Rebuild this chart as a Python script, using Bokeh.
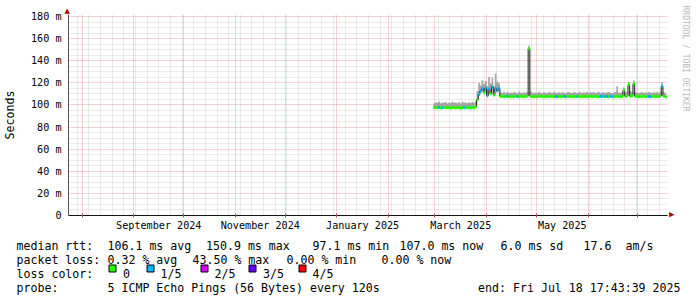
import numpy as np
import pandas as pd
from bokeh.plotting import figure
from bokeh.layouts import column
from bokeh.models import Range1d, FixedTicker, ColumnDataSource, Title
from bokeh.core.properties import value
from bokeh.embed import file_html
from bokeh.resources import INLINE

# ------------------------------------------------------------------ data
first_day = "2025-02-28"            # first daily sample
end_time = "2025-07-18 17:43:39"    # right edge of the graph
span_days = 360

median_ms = [
    97.6, 97.4, 97.5, 97.7, 97.3, 97.5, 97.6,        # Feb 28 - Mar 6
    97.4, 97.6, 97.5, 97.2, 97.6, 97.5, 97.4,        # Mar 7 - 13
    97.6, 97.5, 97.1, 97.7, 97.5, 97.4, 97.6,        # Mar 14 - 20
    97.5, 97.3, 97.6, 97.4, 98.3,                    # Mar 21 - 25
    104.8, 109.5, 112.4, 114.6, 111.2, 115.3, 108.4, # Mar 26 - Apr 1
    114.2, 110.1, 116.3, 108.9, 114.8, 112.6, 115.1, # Apr 2 - 8
    107.6, 107.8, 107.5, 107.7, 107.9, 107.6, 107.5, # Apr 9 - 15
    107.7, 107.4, 107.8, 107.6, 107.5, 107.9, 107.6, # Apr 16 - 22
    107.5, 107.7, 108.0, 150.9, 107.8, 107.6, 107.4, # Apr 23 - 29
    107.6, 107.5, 107.8, 107.6, 107.7, 107.4, 107.6, # Apr 30 - May 6
    107.5, 107.7, 107.6, 107.8, 107.5, 107.6, 107.4, # May 7 - 13
    107.7, 107.5, 107.6, 107.8, 107.5, 107.7, 107.6, # May 14 - 20
    107.4, 107.6, 107.7, 107.5, 107.6, 107.8, 107.5, # May 21 - 27
    107.6, 107.4, 107.7, 107.5, 107.6, 107.8, 107.5, # May 28 - Jun 3
    107.6, 107.7, 107.5, 107.4, 107.6, 107.8, 107.5, # Jun 4 - 10
    107.7, 107.6, 107.5, 107.8, 107.6, 107.4, 107.7, # Jun 11 - 17
    107.9, 107.6, 107.5, 107.7, 113.4, 107.8, 108.1, # Jun 18 - 24
    118.4, 107.9, 108.2, 119.2, 107.8, 107.6, 107.5, # Jun 25 - Jul 1
    107.7, 107.6, 107.8, 107.5, 107.6, 107.7, 107.5, # Jul 2 - 8
    107.6, 107.8, 107.5, 107.7, 107.6, 108.0, 117.0, # Jul 9 - 15
    107.8, 107.6, 107.0,                             # Jul 16 - 18
]

smoke_max_ms = [
    101.2, 102.4, 101.8, 102.9, 101.5, 102.2, 101.9,
    102.6, 101.4, 102.1, 101.7, 103.1, 101.9, 102.3,
    101.6, 102.5, 101.3, 102.8, 101.9, 102.2, 101.5,
    102.4, 101.8, 102.6, 101.7, 103.4,
    112.5, 119.8, 117.6, 122.4, 118.9, 121.7, 116.8,
    125.3, 119.5, 124.6, 117.2, 128.4, 121.3, 119.6,
    111.2, 110.8, 111.6, 110.5, 111.9, 110.9, 111.3,
    110.7, 111.8, 111.2, 110.6, 112.1, 111.0, 110.8,
    111.4, 110.9, 111.7, 153.6, 112.3, 111.2, 110.7,
    111.3, 110.8, 111.9, 111.1, 110.6, 111.5, 111.0,
    110.9, 111.6, 111.2, 110.7, 112.0, 111.3, 110.8,
    111.5, 110.9, 111.7, 111.1, 110.6, 111.4, 111.8,
    111.0, 110.7, 111.6, 111.2, 110.9, 111.8, 111.3,
    110.8, 111.5, 111.0, 111.7, 110.9, 111.4, 111.2,
    111.6, 110.8, 111.3, 111.9, 110.7, 111.2, 111.5,
    110.9, 111.4, 111.8, 111.0, 110.6, 111.3, 111.7,
    116.8, 111.2, 110.9, 111.6, 115.7, 111.3, 112.0,
    120.8, 112.4, 111.9, 122.1, 111.5, 111.1, 110.8,
    111.3, 111.7, 110.9, 111.4, 111.0, 111.6, 111.2,
    110.8, 111.5, 111.1, 111.7, 110.9, 112.2, 120.6,
    111.4, 111.0, 110.7,
]

loss_count = [
    0, 0, 0, 1, 0, 1, 0,
    0, 0, 0, 0, 0, 0, 0,
    0, 0, 0, 0, 1, 0, 0,
    0, 0, 0, 0, 0,
    0, 1, 1, 1, 0, 1, 1,
    1, 0, 1, 0, 1, 1, 1,
    0, 0, 0, 0, 1, 0, 0,
    0, 0, 0, 1, 0, 0, 0,
    0, 0, 0, 0, 0, 0, 0,
    0, 0, 0, 0, 0, 0, 0,
    0, 0, 0, 0, 0, 1, 1,
    0, 0, 0, 1, 1, 0, 0,
    0, 0, 0, 0, 1, 0, 0,
    0, 0, 0, 0, 0, 0, 0,
    0, 0, 0, 0, 1, 1, 0,
    1, 1, 0, 1, 1, 0, 0,
    0, 0, 0, 0, 0, 0, 0,
    0, 0, 0, 0, 0, 0, 0,
    0, 0, 0, 0, 0, 1, 1,
    0, 0, 0, 0, 0, 0, 1,
    0, 0, 0,
]

loss_colors = ["#26ff00", "#00b8ff", "#dd00ff", "#6a00ff", "#ff0000"]
loss_labels = ["0", "1/5", "2/5", "3/5", "4/5"]

month_label_text = ["September 2024", "November 2024", "January 2025", "March 2025", "May 2025"]
month_label_start = ["2024-09-01", "2024-11-01", "2025-01-01", "2025-03-01", "2025-05-01"]
month_label_next = ["2024-10-01", "2024-12-01", "2025-02-01", "2025-04-01", "2025-06-01"]

y_tick_ms = [0, 20, 40, 60, 80, 100, 120, 140, 160, 180]
y_tick_text = ["0", "20 m", "40 m", "60 m", "80 m", "100 m", "120 m", "140 m", "160 m", "180 m"]

rtt_items = ["median rtt:", "106.1 ms avg", "150.9 ms max", "97.1 ms min",
             "107.0 ms now", "6.0 ms sd", "17.6", "am/s"]
loss_items = ["packet loss:", "0.32 % avg", "43.50 % max", "0.00 % min", "0.00 % now"]
probe_items = ["probe:", "5 ICMP Echo Pings (56 Bytes) every 120s"]
end_text = "end: Fri Jul 18 17:43:39 2025"
watermark = "RRDTOOL / TOBI OETIKER"

# ------------------------------------------------------------------ helpers
DAY = 86_400_000
FONT = "DejaVu Sans Mono"


def to_ms(t):
    return pd.Timestamp(t).value // 1_000_000


x0 = np.array([to_ms(d) for d in pd.date_range(first_day, periods=len(median_ms), freq="D")], dtype=float)
src = ColumnDataSource(dict(
    x0=x0, x1=x0 + DAY,
    med=np.array(median_ms, dtype=float),
    top=np.array(smoke_max_ms, dtype=float),
    col=[loss_colors[k] for k in loss_count],
))

end_ms = to_ms(end_time)
start_ms = end_ms - span_days * DAY

# ------------------------------------------------------------------ main graph
p = figure(width=697, height=233,
           x_range=Range1d(start_ms, end_ms), y_range=Range1d(0, 181.8),
           output_backend="svg", toolbar_location=None,
           min_border_left=67, min_border_right=30, min_border_top=14, min_border_bottom=18,
           background_fill_color="white", border_fill_color="white", outline_line_color=None)
p.frame_align = False

month_starts = [to_ms(d) for d in pd.date_range("2024-08-01", "2025-07-01", freq="MS")]
week_starts = [to_ms(d) for d in pd.date_range("2024-07-22", "2025-07-14", freq="W-MON")]
week_minor = [w for w in week_starts if w not in month_starts]
p.xgrid.ticker = FixedTicker(ticks=month_starts, minor_ticks=week_minor)
y_minor = [v for v in range(5, 185, 5) if v not in y_tick_ms]
p.ygrid.ticker = FixedTicker(ticks=y_tick_ms, minor_ticks=y_minor)
for g in (p.xgrid, p.ygrid):
    g.grid_line_color = "#c83030"
    g.grid_line_alpha = 0.42
    g.grid_line_dash = "1 1"
    g.minor_grid_line_color = "#8c8c8c"
    g.minor_grid_line_alpha = 0.35
    g.minor_grid_line_dash = "1 1"

label_pos = [(to_ms(a) + to_ms(b)) // 2 for a, b in zip(month_label_start, month_label_next)]
xa = p.xaxis[0]
xa.ticker = FixedTicker(ticks=label_pos, minor_ticks=month_starts)
xa.major_label_overrides = dict(zip(label_pos, month_label_text))
xa.major_tick_line_color = None
xa.major_tick_out = 0
xa.major_tick_in = 0
xa.minor_tick_line_color = "#b05050"
xa.minor_tick_in = 2
xa.minor_tick_out = 2
xa.axis_line_color = "#111111"
xa.major_label_text_font = FONT
xa.major_label_text_font_size = "10.15px"
xa.major_label_text_color = "black"
xa.major_label_standoff = 2

ya = p.yaxis[0]
ya.ticker = FixedTicker(ticks=y_tick_ms)
ya.major_label_overrides = dict(zip(y_tick_ms, y_tick_text))
ya.major_tick_line_color = None
ya.major_tick_out = 0
ya.major_tick_in = 0
ya.minor_tick_line_color = None
ya.axis_line_color = "#555555"
ya.major_label_text_font = FONT
ya.major_label_text_font_size = "10.15px"
ya.major_label_text_color = "black"
ya.major_label_standoff = 7
ya.axis_label = "Seconds"
ya.axis_label_text_font = FONT
ya.axis_label_text_font_size = "11.6px"
ya.axis_label_text_font_style = "normal"
ya.axis_label_text_color = "black"
ya.axis_label_standoff = 11

# axis arrows and watermark live in the side panels
p.add_layout(Title(text="\u25B2", text_font="DejaVu Sans", text_font_size="7px",
                   text_color="#b00000", align="left", offset=-4, standoff=0), "above")
p.add_layout(Title(text="\u25B2", text_font="DejaVu Sans", text_font_size="7px",
                   text_color="#b00000", align="right", offset=-2, standoff=0), "right")
p.add_layout(Title(text=watermark, text_font=FONT, text_font_size="8px",
                   text_color="#b8b8b8", text_font_style="normal",
                   align="left", offset=-9, standoff=6), "right")

# smoke, median line, loss-coloured median band
p.varea_step(x="x0", y1="med", y2="top", step_mode="after", source=src,
             fill_color="#a4a4a4", fill_alpha=1.0)
p.step(x="x0", y="med", mode="after", source=src, line_color="#1a1a1a", line_width=1)
p.segment(x0="x0", y0="med", x1="x1", y1="med", line_color="col", line_width=3,
          line_cap="butt", source=src)

# ------------------------------------------------------------------ legend strip (page y 233..297)
q = figure(width=697, height=64, x_range=Range1d(0, 697), y_range=Range1d(297, 233),
           output_backend="svg", toolbar_location=None,
           x_axis_location=None, y_axis_location=None,
           min_border_left=0, min_border_right=0, min_border_top=0, min_border_bottom=0,
           background_fill_color="white", border_fill_color="white", outline_line_color=None)
q.frame_align = False
q.grid.visible = False

TXT = dict(text_font=value(FONT), text_font_size="11.6px", text_color="black",
           text_baseline="alphabetic")
q.text(x=[16, 107, 205.5, 312, 399, 500, 583, 625], y=[245.2] * 8, text=rtt_items,
       text_align="left", **TXT)
q.text(x=[16, 107, 192, 286, 381], y=[259.2] * 5, text=loss_items, text_align="left", **TXT)
q.text(x=[16], y=[273.2], text=["loss color:"], text_align="left", **TXT)
q.quad(left=[108.5, 146.5, 200.5, 248.5, 298.5], right=[115.5, 153.5, 207.5, 255.5, 305.5],
       top=[264.5] * 5, bottom=[271.5] * 5, fill_color=loss_colors, line_color="black",
       line_width=1)
q.text(x=[122.6, 160, 214, 262.5, 312], y=[273.2] * 5, text=loss_labels,
       text_align="left", **TXT)
q.text(x=[16, 107], y=[287.2] * 2, text=probe_items, text_align="left", **TXT)
q.text(x=[680], y=[287.2], text=[end_text], text_align="right", **TXT)

page = column(p, q, spacing=0)
open("out.html", "w").write(file_html(page, INLINE))
